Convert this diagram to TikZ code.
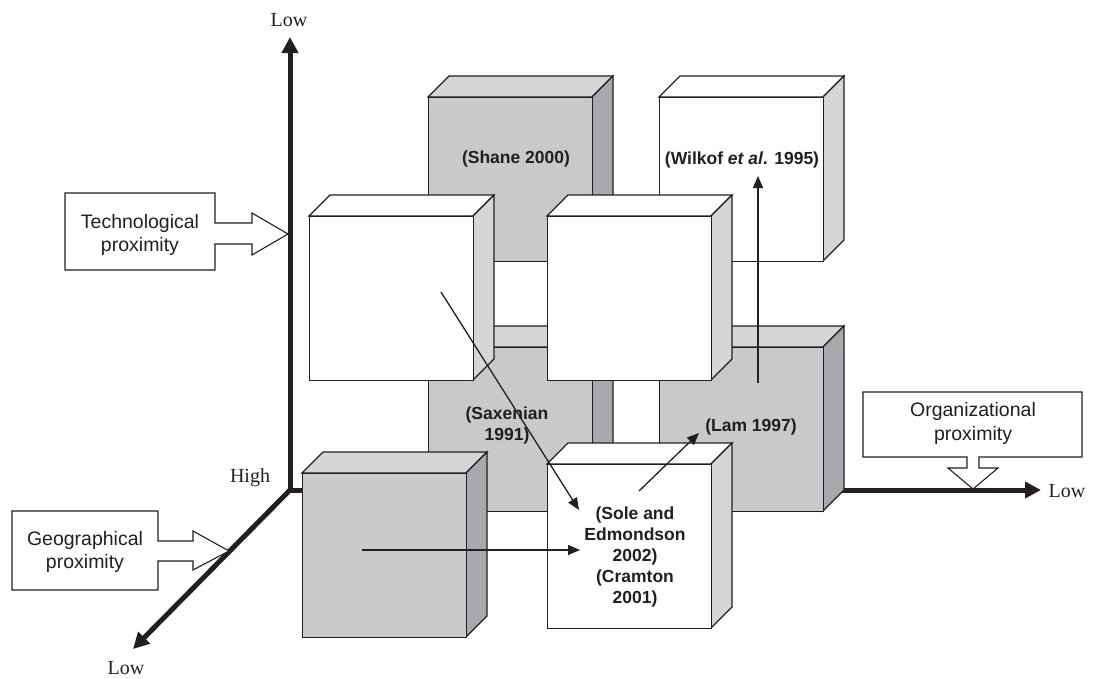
\documentclass[tikz,border=0pt]{standalone}
\usepackage{fontspec}
\setmainfont{Liberation Serif}
\newfontfamily\hv{Liberation Sans}
\usetikzlibrary{arrows.meta}
\definecolor{edge}{HTML}{231F20}
\definecolor{gfront}{HTML}{C8C9CB}
\definecolor{gtop}{HTML}{D5D6D8}
\definecolor{gside}{HTML}{A8A9AC}
\definecolor{wside}{HTML}{D5D6D8}
\newcommand\mycube[6]{%
  \filldraw[fill=#5,draw=edge,line width=1.1pt,line join=miter] (#2,#3) -- ++(21,-21) -- ++(164,0) -- ++(-21,21) -- cycle;
  \filldraw[fill=#6,draw=edge,line width=1.1pt,line join=miter] ({#2+164},#3) -- ++(21,-21) -- ++(0,164) -- ++(-21,21) -- cycle;
  \node[draw=edge,fill=#4,line width=1.1pt,minimum width=164pt,minimum height=164pt,inner sep=0pt,anchor=north west] (#1) at (#2,#3) {};
}
\tikzset{
  axis/.style={draw=edge,line width=5pt},
  axtip/.style={Triangle[length=16pt,width=16pt]},
  thinarrow/.style={draw=edge,line width=1.3pt,-{Triangle[length=12pt,width=10pt]}},
  lowlabel/.style={font=\fontsize{20}{24}\selectfont,text=edge,inner sep=0pt},
  cite/.style={font=\hv\bfseries\fontsize{17.5}{21}\selectfont,text=edge,align=center,inner sep=0pt},
  proxtext/.style={font=\hv\fontsize{19.5}{23.5}\selectfont,text=edge,align=center,inner sep=0pt},
  proxbox/.style={fill=white,draw=edge,line width=1.1pt,line join=miter},
}
\begin{document}
\begin{tikzpicture}[x=1pt,y=-1pt]
\useasboundingbox (0,0) rectangle (1104,678);
% axes
\coordinate (O) at (290,490);
\coordinate (Ytip) at (290,37);
\coordinate (Xtip) at (1041,490);
\coordinate (Ztip) at (133,649);
\draw[axis,{Triangle[length=16pt,width=16pt]}-{Triangle[length=16pt,width=16pt]}] (Ytip) -- (O) -- (Xtip);
\draw[axis,-{Triangle[length=16pt,width=16pt]}] (O) -- (Ztip);
\node[lowlabel] (lowy) at (289,20) {Low};
\node[lowlabel] (lowx) at (1067,491) {Low};
\node[lowlabel] (lowz) at (126,668) {Low};
\node[lowlabel] (high) at (250,478) {High};
% back layer
\mycube{shane}{428}{97}{gfront}{gtop}{gside}
\mycube{wilkof}{659}{97}{white}{white}{wside}
\mycube{saxenian}{428}{347}{gfront}{gtop}{gside}
\mycube{lam}{659}{347}{gfront}{gtop}{gside}
% front layer
\mycube{techw}{309}{216}{white}{white}{wside}
\mycube{midw}{547}{216}{white}{white}{wside}
\mycube{geog}{302}{473}{gfront}{gtop}{gside}
\mycube{sole}{547}{464}{white}{white}{wside}
% labels
\node[cite] (tshane) at (516,159) {(Shane 2000)};
\node[cite] (twilkof) at (742,160) {(Wilkof \textit{et al}. 1995)};
\node[cite] (tsax) at (507,425.5) {(Saxenian\\1991)};
\node[cite] (tlam) at (751,427) {(Lam 1997)};
\node[cite] (tsole) at (635,557) {(Sole and\\Edmondson\\2002)\\(Cramton\\2001)};
% arrows
\coordinate (a1s) at (441,292);
\coordinate (a1e) at (579,510);
\coordinate (a2s) at (362,550);
\coordinate (a2e) at (580,550);
\coordinate (a3s) at (639,491);
\coordinate (a3e) at (699,433);
\coordinate (a4s) at (758,383);
\coordinate (a4e) at (758,176);
\draw[thinarrow] (a1s) -- (a1e);
\draw[thinarrow] (a2s) -- (a2e);
\draw[thinarrow] (a3s) -- (a3e);
\draw[thinarrow] (a4s) -- (a4e);
% proximity boxes
\draw[proxbox] (65,193) -- (215,193) -- (215,223) -- (252,223) -- (252,213) -- (288,234) -- (252,255) -- (252,244) -- (215,244) -- (215,270) -- (65,270) -- cycle;
\node[proxtext] (ttech) at (140,235) {Technological\\proximity};
\draw[proxbox] (12,511) -- (158,511) -- (158,541) -- (193,541) -- (193,531) -- (229,551) -- (193,570) -- (193,561) -- (158,561) -- (158,590) -- (12,590) -- cycle;
\node[proxtext] (tgeo) at (85,552) {Geographical\\proximity};
\draw[proxbox] (863,392) -- (1082,392) -- (1082,457) -- (979,457) -- (979,468) -- (998,468) -- (973,489) -- (948,468) -- (967,468) -- (967,457) -- (863,457) -- cycle;
\node[proxtext] (torg) at (973,423.5) {Organizational\\proximity};
\end{tikzpicture}
\end{document}
